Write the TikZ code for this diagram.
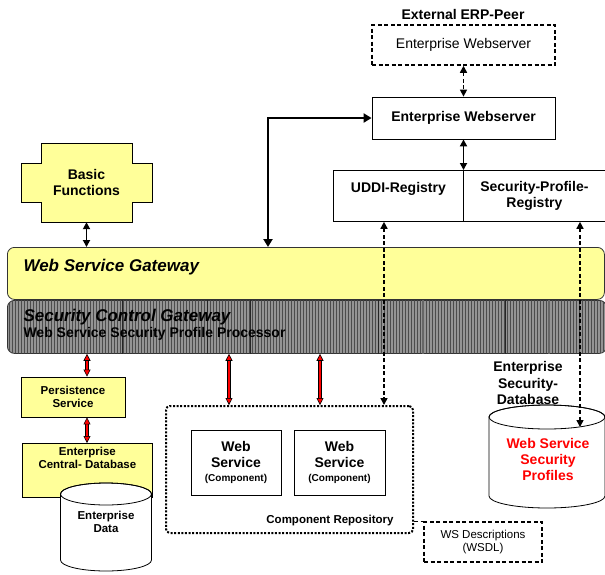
\documentclass[tikz,border=0pt]{standalone}
\usepackage{fontspec}
\setmainfont{Liberation Sans}
\usetikzlibrary{arrows.meta,
                patterns
            }

\definecolor{wsyellow}{HTML}{FFFF99}
\definecolor{wsred}{HTML}{FF0000}

\newcommand{\fbold}{\fontsize{14}{16}\selectfont\bfseries}
\newcommand{\freg}{\fontsize{14}{16}\selectfont}
\newcommand{\fsmall}{\fontsize{11.5}{13}\selectfont\bfseries}
\newcommand{\fsmallreg}{\fontsize{11.5}{13}\selectfont}
\newcommand{\ftiny}{\fontsize{10}{11}\selectfont\bfseries}
\newcommand{\fhuge}{\fontsize{17}{20}\selectfont\bfseries\itshape}

\tikzset{
    >={Triangle[length=7pt, width=7pt]},
    redtri/.tip={Triangle[length=7pt, width=7pt, color=black, fill=wsred, line width=0.6pt]},
    box/.style={draw, line width=0.8pt, inner sep=0pt, align=center},
    ybox/.style={box, fill=wsyellow},
    dashbox/.style={box, line width=1.5pt, dash pattern=on 4pt off 2.5pt},
    dasharrow/.style={line width=1.5pt, dash pattern=on 4pt off 2.5pt, <->},
    solidarrow/.style={line width=1.8pt, <->},
    bigarrow/.style={line width=2.5pt, {Triangle[length=8pt, width=9pt]}-{Triangle[length=8pt, width=9pt]}},
    redarrow/.style={wsred, line width=1.5pt, {redtri}-{redtri},
        preaction={draw=black, line width=3.1pt, arrows=-, shorten <=5pt, shorten >=5pt}}
}

\begin{document}
\begin{tikzpicture}[x=1pt, y=-1pt]
    \useasboundingbox (0,0) rectangle (605,574);

    \node[font=\fbold] (peerlabel) at (463,14) {External ERP-Peer};
    \node[dashbox, minimum width=183pt, minimum height=40pt, font=\freg] (peer) at (463.5,45) {Enterprise Webserver};
    \node[box, minimum width=183pt, minimum height=42pt, font=\fbold] (websrv) at (463.5,118) {Enterprise Webserver};
    \node[box, minimum width=130pt, minimum height=51pt, anchor=north west, font=\fbold] (uddi) at (333,170) {UDDI-Registry\\~};
    \node[box, minimum width=142pt, minimum height=51pt, anchor=north west, font=\fbold] (secreg) at (463,170) {Security-Profile-\\Registry};

    \draw[ybox] (41,143) -- (132,143) -- (132,163) -- (152,163) -- (152,202) -- (132,202)
        -- (132,222) -- (41,222) -- (41,202) -- (21,202) -- (21,163) -- (41,163) -- cycle;
    \node[align=center, minimum width=131pt, minimum height=79pt, font=\fbold] (basic) at (86.5,182.5) {Basic\\Functions};

    \node[draw=black!80, line width=0.8pt, fill=wsyellow, rounded corners=7pt, minimum width=597pt, minimum height=52pt, anchor=north west] (gw) at (7,247) {};
    \node[draw=black!80, line width=0.8pt, fill=black!42, rounded corners=7pt, minimum width=599pt, minimum height=53pt, anchor=north west,
        postaction={pattern=vertical lines, pattern color=black!70}] (scg) at (7,300) {};
    \foreach \x in {122,207,250,378,505}
        \draw[black!85, line width=0.8pt] (\x,0 |- scg.north) -- (\x,0 |- scg.south);
    \foreach \x in {423,549}
        \draw[black!60, line width=1.5pt] (\x,0 |- scg.north) -- (\x,0 |- scg.south);
    \node[anchor=west, font=\fhuge] (gwname) at (20,267) {Web Service Gateway};
    \node[anchor=west, font=\fhuge] (scgname) at (20,317) {Security Control Gateway};
    \node[anchor=west, font=\fbold] (procname) at (20,334) {Web Service Security Profile Processor};

    \node[ybox, minimum width=104pt, minimum height=40pt, font=\fsmall] (pers) at (73,397) {Persistence\\Service};
    \node[ybox, minimum width=130pt, minimum height=54pt, anchor=north west, font=\fsmall] (centraldb) at (22,443) {Enterprise\\Central- Database\\~\\~};
    \draw[line width=0.8pt, fill=white] (60.5,494) -- (60.5,560)
        arc[start angle=180, end angle=360, x radius=45.5pt, y radius=11pt] -- (151.5,494)
        arc[start angle=0, end angle=180, x radius=45.5pt, y radius=11pt] -- cycle;
    \draw[line width=0.8pt] (106,494) ellipse [x radius=45.5pt, y radius=11pt];
    \node[align=center, font=\fsmall] (entdata) at (106,522) {Enterprise\\Data};

    \node[draw, line width=2pt, dash pattern=on 2pt off 1.6pt, rounded corners=4pt, minimum width=247pt, minimum height=127pt, anchor=north west] (repo) at (165,405) {};
    \node[box, minimum width=90pt, minimum height=65pt, font=\fbold] (ws1) at (236,462.5) {Web\\Service\\[-2pt]{\ftiny (Component)}};
    \node[box, minimum width=91pt, minimum height=65pt, font=\fbold] (ws2) at (339.5,462.5) {Web\\Service\\[-2pt]{\ftiny (Component)}};
    \node[font=\fsmall] (repolabel) at (330,521) {Component Repository};
    \node[dashbox, minimum width=118pt, minimum height=40pt, font=\fsmallreg] (wsdl) at (483,542) {WS Descriptions\\(WSDL)};
    \draw[line width=1.5pt, dash pattern=on 4pt off 2.5pt] (repo.east |- wsdl.north) -- (wsdl.north west);

    \node[align=center, font=\fbold] (secdb) at (528,383) {Enterprise\\[0.5pt]Security-\\[0.5pt]Database};
    \draw[line width=0.8pt, fill=white] (489,417) -- (489,496)
        arc[start angle=180, end angle=360, x radius=58pt, y radius=12pt] -- (605,417)
        arc[start angle=0, end angle=180, x radius=58pt, y radius=12pt] -- cycle;
    \draw[line width=0.8pt] (547,417) ellipse [x radius=58pt, y radius=12pt];
    \node[align=center, font=\fbold, text=wsred] (profiles) at (548,459) {Web Service\\Security\\Profiles};
    \coordinate (proffront) at (580,427);

    \draw[dasharrow] (peer.south) -- (websrv.north);
    \draw[solidarrow] (websrv.south) -- (websrv.south |- uddi.north);
    \draw[bigarrow] (websrv.west) -| (268,0 |- gw.north);
    \draw[solidarrow] (basic.south) -- (basic.south |- gw.north);
    \draw[dasharrow] (384,0 |- uddi.south) -- (384,0 |- repo.north);
    \draw[dasharrow] (580,0 |- secreg.south) -- (proffront);

    \draw[redarrow] (87,0 |- scg.south) -- (87,0 |- pers.north);
    \draw[redarrow] (87,0 |- pers.south) -- (87,0 |- centraldb.north);
    \draw[redarrow] (229,0 |- scg.south) -- (229,0 |- repo.north);
    \draw[redarrow] (320,0 |- scg.south) -- (320,0 |- repo.north);
\end{tikzpicture}
\end{document}
